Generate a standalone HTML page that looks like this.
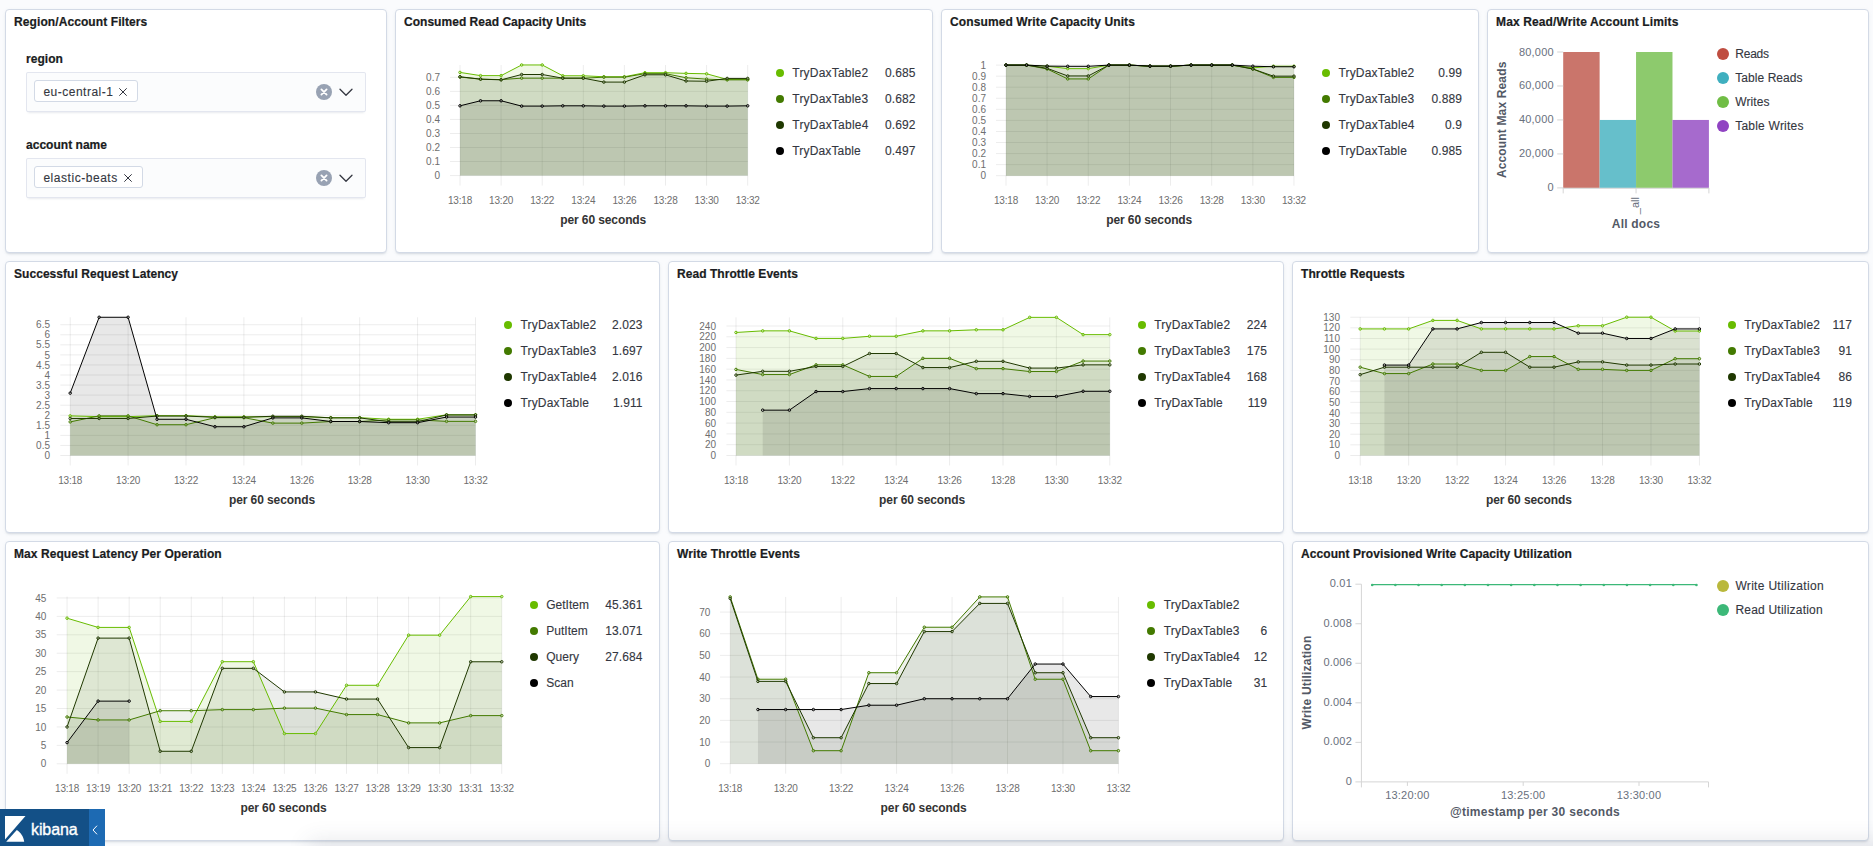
<!DOCTYPE html>
<html lang="en"><head><meta charset="utf-8"><title>[Metricbeat AWS] DynamoDB Overview - Kibana</title>
<style>
*{box-sizing:border-box}
html,body{margin:0;padding:0}
body{width:1873px;height:846px;overflow:hidden;background:#fafbfd;font-family:"Liberation Sans",sans-serif;color:#343741;position:relative}
.panel{position:absolute;background:#fff;border:1px solid #d3dae6;border-radius:4px;box-shadow:0 2px 2px -1px rgba(152,162,179,.3),0 1px 5px -2px rgba(152,162,179,.3)}
.panel h2{position:absolute;left:8px;top:5px;margin:0;font-size:12px;line-height:14px;font-weight:bold;color:#1a1c21;white-space:nowrap;-webkit-text-stroke:0.2px #1a1c21}
.cv{position:absolute;left:0;top:0;display:block;overflow:visible}
.lg{position:absolute;height:18px;font-size:12px;line-height:18px;color:#343741;white-space:nowrap;-webkit-text-stroke:0.12px #343741}
.lg i{position:absolute;left:0;top:5px;width:8px;height:8px;border-radius:50%}
.lg .ln{position:absolute;top:0}
.lg .lv{position:absolute;right:0;top:0;letter-spacing:0.1px}
.vl{position:absolute;height:18px;font-size:12px;line-height:18px;color:#343741;white-space:nowrap;-webkit-text-stroke:0.12px #343741}
.vl i{position:absolute;left:0;top:3px;width:12px;height:12px;border-radius:50%}
.vl span{position:absolute;top:0}
.ctl{position:absolute;left:20px;width:340px}
.ctl label{display:block;font-size:12px;line-height:18px;font-weight:bold;color:#1a1c21;height:22px;white-space:nowrap;-webkit-text-stroke:0.2px #1a1c21}
.combo{position:relative;height:40px;background:#fbfcfd;border-radius:2px;box-shadow:0 1px 1px -1px rgba(152,162,179,.2),0 3px 2px -2px rgba(152,162,179,.2),inset 0 0 0 1px rgba(15,39,118,.1)}
.pill{position:absolute;left:8px;top:8px;height:22px;background:#fff;border:1px solid #d3dae6;border-radius:3px;font-size:12px;line-height:23px;color:#343741;padding-left:8.4px;white-space:nowrap;-webkit-text-stroke:0.12px #343741}
.pill svg{position:absolute;right:10px;top:7px}
.clr{position:absolute;left:290px;top:12px}
.chev{position:absolute;left:313px;top:16px}
.badge{position:absolute;left:0;top:809px;width:105px;height:37px;background:#135087;color:#fff}
.badge svg{position:absolute;left:5px;top:7px}
.badge span{position:absolute;left:31px;top:10.5px;font-size:16px;line-height:20px;letter-spacing:-0.1px;color:#fff;-webkit-text-stroke:0.35px #fff}
.badge b{position:absolute;left:89px;top:0;width:16px;height:37px;background:#1d6ab3}
.badge b svg{left:3.3px;top:15.8px}
.btm{position:absolute;left:318px;right:-40px;top:850px;height:10px;box-shadow:0 0 22px 9px rgba(60,70,90,.13)}
</style></head>
<body>
<main>
<section class="panel" style="left:5px;top:9px;width:382px;height:244px"><h2 style="letter-spacing:0.093px">Region/Account Filters</h2>
<div class="ctl" style="top:40px">
<label style="letter-spacing:0.055px">region</label>
<div class="combo"><span class="pill" style="width:104px"><span style="letter-spacing:0.497px">eu-central-1</span><svg width="8" height="8" viewBox="0 0 8 8"><path d="M0.3 0.3L7.7 7.7M7.7 0.3L0.3 7.7" stroke="#343741" stroke-width="1" fill="none"/></svg></span>
<svg class="clr" width="16" height="16" viewBox="0 0 16 16"><circle cx="8" cy="8" r="8" fill="#98a2b3"/><path d="M5.4 5.4L10.6 10.6M10.6 5.4L5.4 10.6" stroke="#fff" stroke-width="1.8" stroke-linecap="round"/></svg>
<svg class="chev" width="14" height="9" viewBox="0 0 14 9"><path d="M1 1.2L7 7.2L13 1.2" stroke="#343741" stroke-width="1.3" fill="none" stroke-linejoin="round" stroke-linecap="round"/></svg>
</div></div>
<div class="ctl" style="top:126px">
<label style="letter-spacing:0.025px">account name</label>
<div class="combo"><span class="pill" style="width:108.5px"><span style="letter-spacing:0.54px">elastic-beats</span><svg width="8" height="8" viewBox="0 0 8 8"><path d="M0.3 0.3L7.7 7.7M7.7 0.3L0.3 7.7" stroke="#343741" stroke-width="1" fill="none"/></svg></span>
<svg class="clr" width="16" height="16" viewBox="0 0 16 16"><circle cx="8" cy="8" r="8" fill="#98a2b3"/><path d="M5.4 5.4L10.6 10.6M10.6 5.4L5.4 10.6" stroke="#fff" stroke-width="1.8" stroke-linecap="round"/></svg>
<svg class="chev" width="14" height="9" viewBox="0 0 14 9"><path d="M1 1.2L7 7.2L13 1.2" stroke="#343741" stroke-width="1.3" fill="none" stroke-linejoin="round" stroke-linecap="round"/></svg>
</div></div>
</section>
<section class="panel" style="left:395px;top:9px;width:538px;height:244px"><h2 style="letter-spacing:0.029px">Consumed Read Capacity Units</h2>
<svg class="cv" width="536" height="242" viewBox="396 10 536 242" font-family='"Liberation Sans", sans-serif'>
<path d="M450 175.6H747.7M450 161.56H747.7M450 147.52H747.7M450 133.48H747.7M450 119.44H747.7M450 105.4H747.7M450 91.36H747.7M450 77.32H747.7M460 64.96V185.6M501.1 64.96V185.6M542.2 64.96V185.6M583.3 64.96V185.6M624.4 64.96V185.6M665.5 64.96V185.6M706.6 64.96V185.6M747.7 64.96V185.6" stroke="rgba(0,0,0,0.075)" stroke-width="1" fill="none"/>
<path d="M460 175.6L460 72.41L480.55 75.64L501.1 75.64L521.65 64.96L542.2 64.96L562.75 75.78L583.3 75.78L603.85 76.76L624.4 76.76L644.95 72.69L665.5 72.69L686.05 73.39L706.6 73.81L727.15 79.43L747.7 79.43L747.7 175.6Z" fill="#68bc00" fill-opacity="0.1"/>
<path d="M460 175.6L460 77.04L480.55 79.15L501.1 79.57L521.65 78.16L542.2 78.16L562.75 78.16L583.3 78.16L603.85 77.18L624.4 77.18L644.95 73.67L665.5 73.67L686.05 77.74L706.6 79.15L727.15 79.85L747.7 79.85L747.7 175.6Z" fill="#55733f" fill-opacity="0.1"/>
<path d="M460 175.6L460 76.76L480.55 79.15L501.1 79.85L521.65 74.51L542.2 74.51L562.75 78.16L583.3 78.16L603.85 82.09L624.4 82.09L644.95 74.79L665.5 74.79L686.05 80.97L706.6 81.25L727.15 78.44L747.7 78.44L747.7 175.6Z" fill="#415537" fill-opacity="0.1"/>
<path d="M460 175.6L460 105.82L480.55 100.77L501.1 100.77L521.65 106.1L542.2 106.1L562.75 105.82L583.3 105.82L603.85 106.1L624.4 106.1L644.95 105.82L665.5 105.82L686.05 105.82L706.6 106.1L727.15 106.1L747.7 105.82L747.7 175.6Z" fill="#000000" fill-opacity="0.09"/>
<path d="M460 72.41L480.55 75.64L501.1 75.64L521.65 64.96L542.2 64.96L562.75 75.78L583.3 75.78L603.85 76.76L624.4 76.76L644.95 72.69L665.5 72.69L686.05 73.39L706.6 73.81L727.15 79.43L747.7 79.43" stroke="#68bc00" stroke-width="1" fill="none" stroke-linejoin="round"/>
<g fill="#fff" fill-opacity="0.35" stroke="#68bc00" stroke-width="1"><circle cx="460" cy="72.41" r="1.25"/><circle cx="480.55" cy="75.64" r="1.25"/><circle cx="501.1" cy="75.64" r="1.25"/><circle cx="521.65" cy="64.96" r="1.25"/><circle cx="542.2" cy="64.96" r="1.25"/><circle cx="562.75" cy="75.78" r="1.25"/><circle cx="583.3" cy="75.78" r="1.25"/><circle cx="603.85" cy="76.76" r="1.25"/><circle cx="624.4" cy="76.76" r="1.25"/><circle cx="644.95" cy="72.69" r="1.25"/><circle cx="665.5" cy="72.69" r="1.25"/><circle cx="686.05" cy="73.39" r="1.25"/><circle cx="706.6" cy="73.81" r="1.25"/><circle cx="727.15" cy="79.43" r="1.25"/><circle cx="747.7" cy="79.43" r="1.25"/></g>
<path d="M460 77.04L480.55 79.15L501.1 79.57L521.65 78.16L542.2 78.16L562.75 78.16L583.3 78.16L603.85 77.18L624.4 77.18L644.95 73.67L665.5 73.67L686.05 77.74L706.6 79.15L727.15 79.85L747.7 79.85" stroke="#437a00" stroke-width="1" fill="none" stroke-linejoin="round"/>
<g fill="#fff" fill-opacity="0.35" stroke="#437a00" stroke-width="1"><circle cx="460" cy="77.04" r="1.25"/><circle cx="480.55" cy="79.15" r="1.25"/><circle cx="501.1" cy="79.57" r="1.25"/><circle cx="521.65" cy="78.16" r="1.25"/><circle cx="542.2" cy="78.16" r="1.25"/><circle cx="562.75" cy="78.16" r="1.25"/><circle cx="583.3" cy="78.16" r="1.25"/><circle cx="603.85" cy="77.18" r="1.25"/><circle cx="624.4" cy="77.18" r="1.25"/><circle cx="644.95" cy="73.67" r="1.25"/><circle cx="665.5" cy="73.67" r="1.25"/><circle cx="686.05" cy="77.74" r="1.25"/><circle cx="706.6" cy="79.15" r="1.25"/><circle cx="727.15" cy="79.85" r="1.25"/><circle cx="747.7" cy="79.85" r="1.25"/></g>
<path d="M460 76.76L480.55 79.15L501.1 79.85L521.65 74.51L542.2 74.51L562.75 78.16L583.3 78.16L603.85 82.09L624.4 82.09L644.95 74.79L665.5 74.79L686.05 80.97L706.6 81.25L727.15 78.44L747.7 78.44" stroke="#1f3800" stroke-width="1" fill="none" stroke-linejoin="round"/>
<g fill="#fff" fill-opacity="0.35" stroke="#1f3800" stroke-width="1"><circle cx="460" cy="76.76" r="1.25"/><circle cx="480.55" cy="79.15" r="1.25"/><circle cx="501.1" cy="79.85" r="1.25"/><circle cx="521.65" cy="74.51" r="1.25"/><circle cx="542.2" cy="74.51" r="1.25"/><circle cx="562.75" cy="78.16" r="1.25"/><circle cx="583.3" cy="78.16" r="1.25"/><circle cx="603.85" cy="82.09" r="1.25"/><circle cx="624.4" cy="82.09" r="1.25"/><circle cx="644.95" cy="74.79" r="1.25"/><circle cx="665.5" cy="74.79" r="1.25"/><circle cx="686.05" cy="80.97" r="1.25"/><circle cx="706.6" cy="81.25" r="1.25"/><circle cx="727.15" cy="78.44" r="1.25"/><circle cx="747.7" cy="78.44" r="1.25"/></g>
<path d="M460 105.82L480.55 100.77L501.1 100.77L521.65 106.1L542.2 106.1L562.75 105.82L583.3 105.82L603.85 106.1L624.4 106.1L644.95 105.82L665.5 105.82L686.05 105.82L706.6 106.1L727.15 106.1L747.7 105.82" stroke="#000000" stroke-width="1" fill="none" stroke-linejoin="round"/>
<g fill="#fff" fill-opacity="0.35" stroke="#000000" stroke-width="1"><circle cx="460" cy="105.82" r="1.25"/><circle cx="480.55" cy="100.77" r="1.25"/><circle cx="501.1" cy="100.77" r="1.25"/><circle cx="521.65" cy="106.1" r="1.25"/><circle cx="542.2" cy="106.1" r="1.25"/><circle cx="562.75" cy="105.82" r="1.25"/><circle cx="583.3" cy="105.82" r="1.25"/><circle cx="603.85" cy="106.1" r="1.25"/><circle cx="624.4" cy="106.1" r="1.25"/><circle cx="644.95" cy="105.82" r="1.25"/><circle cx="665.5" cy="105.82" r="1.25"/><circle cx="686.05" cy="105.82" r="1.25"/><circle cx="706.6" cy="106.1" r="1.25"/><circle cx="727.15" cy="106.1" r="1.25"/><circle cx="747.7" cy="105.82" r="1.25"/></g>
<g font-size="10" fill="#6e6e6e" text-anchor="end"><text x="440" y="179.2">0</text><text x="440" y="165.16">0.1</text><text x="440" y="151.12">0.2</text><text x="440" y="137.08">0.3</text><text x="440" y="123.04">0.4</text><text x="440" y="109">0.5</text><text x="440" y="94.96">0.6</text><text x="440" y="80.92">0.7</text></g>
<g font-size="10" fill="#6e6e6e" text-anchor="middle" letter-spacing="-0.2"><text x="460" y="204.2">13:18</text><text x="501.1" y="204.2">13:20</text><text x="542.2" y="204.2">13:22</text><text x="583.3" y="204.2">13:24</text><text x="624.4" y="204.2">13:26</text><text x="665.5" y="204.2">13:28</text><text x="706.6" y="204.2">13:30</text><text x="747.7" y="204.2">13:32</text></g>
<text x="603.2" y="223.6" font-size="12" font-weight="bold" fill="#333" text-anchor="middle" letter-spacing="-0.1">per 60 seconds</text>
</svg>
<div class="lg" style="top:54px;left:380px;width:139.5px"><i style="background:#68bc00"></i><span class="ln" style="left:16.3px;letter-spacing:0.201px;">TryDaxTable2</span><span class="lv">0.685</span></div>
<div class="lg" style="top:80px;left:380px;width:139.5px"><i style="background:#437a00"></i><span class="ln" style="left:16.3px;letter-spacing:0.201px;">TryDaxTable3</span><span class="lv">0.682</span></div>
<div class="lg" style="top:106px;left:380px;width:139.5px"><i style="background:#1f3800"></i><span class="ln" style="left:16.3px;letter-spacing:0.226px;">TryDaxTable4</span><span class="lv">0.692</span></div>
<div class="lg" style="top:132px;left:380px;width:139.5px"><i style="background:#000000"></i><span class="ln" style="left:16.3px;letter-spacing:0.153px;">TryDaxTable</span><span class="lv">0.497</span></div>
</section>
<section class="panel" style="left:941px;top:9px;width:538px;height:244px"><h2 style="letter-spacing:0.11px">Consumed Write Capacity Units</h2>
<svg class="cv" width="536" height="242" viewBox="942 10 536 242" font-family='"Liberation Sans", sans-serif'>
<path d="M996 175.7H1293.98M996 164.64H1293.98M996 153.58H1293.98M996 142.52H1293.98M996 131.46H1293.98M996 120.4H1293.98M996 109.34H1293.98M996 98.28H1293.98M996 87.22H1293.98M996 76.16H1293.98M996 65.1H1293.98M1006 65.1V185.7M1047.14 65.1V185.7M1088.28 65.1V185.7M1129.42 65.1V185.7M1170.56 65.1V185.7M1211.7 65.1V185.7M1252.84 65.1V185.7M1293.98 65.1V185.7" stroke="rgba(0,0,0,0.075)" stroke-width="1" fill="none"/>
<path d="M1006 175.7L1006 65.1L1026.57 65.1L1047.14 66.21L1067.71 68.64L1088.28 68.64L1108.85 65.1L1129.42 65.1L1149.99 66.21L1170.56 66.21L1191.13 65.1L1211.7 65.1L1232.27 65.1L1252.84 67.86L1273.41 66.21L1293.98 66.21L1293.98 175.7Z" fill="#68bc00" fill-opacity="0.1"/>
<path d="M1006 175.7L1006 65.1L1026.57 65.1L1047.14 68.97L1067.71 78.92L1088.28 78.92L1108.85 65.1L1129.42 65.1L1149.99 66.21L1170.56 66.21L1191.13 65.1L1211.7 65.1L1232.27 65.1L1252.84 68.97L1273.41 77.38L1293.98 77.38L1293.98 175.7Z" fill="#55733f" fill-opacity="0.1"/>
<path d="M1006 175.7L1006 65.1L1026.57 65.1L1047.14 68.31L1067.71 75.94L1088.28 75.94L1108.85 65.1L1129.42 65.1L1149.99 66.21L1170.56 66.21L1191.13 65.1L1211.7 65.1L1232.27 65.1L1252.84 68.97L1273.41 76.16L1293.98 76.16L1293.98 175.7Z" fill="#415537" fill-opacity="0.1"/>
<path d="M1006 175.7L1006 65.1L1026.57 65.1L1047.14 66.1L1067.71 66.32L1088.28 66.32L1108.85 65.1L1129.42 65.1L1149.99 66.1L1170.56 66.1L1191.13 65.1L1211.7 65.1L1232.27 65.1L1252.84 66.21L1273.41 66.76L1293.98 66.76L1293.98 175.7Z" fill="#000000" fill-opacity="0.09"/>
<path d="M1006 65.1L1026.57 65.1L1047.14 66.21L1067.71 68.64L1088.28 68.64L1108.85 65.1L1129.42 65.1L1149.99 66.21L1170.56 66.21L1191.13 65.1L1211.7 65.1L1232.27 65.1L1252.84 67.86L1273.41 66.21L1293.98 66.21" stroke="#68bc00" stroke-width="1" fill="none" stroke-linejoin="round"/>
<g fill="#fff" fill-opacity="0.35" stroke="#68bc00" stroke-width="1"><circle cx="1006" cy="65.1" r="1.25"/><circle cx="1026.57" cy="65.1" r="1.25"/><circle cx="1047.14" cy="66.21" r="1.25"/><circle cx="1067.71" cy="68.64" r="1.25"/><circle cx="1088.28" cy="68.64" r="1.25"/><circle cx="1108.85" cy="65.1" r="1.25"/><circle cx="1129.42" cy="65.1" r="1.25"/><circle cx="1149.99" cy="66.21" r="1.25"/><circle cx="1170.56" cy="66.21" r="1.25"/><circle cx="1191.13" cy="65.1" r="1.25"/><circle cx="1211.7" cy="65.1" r="1.25"/><circle cx="1232.27" cy="65.1" r="1.25"/><circle cx="1252.84" cy="67.86" r="1.25"/><circle cx="1273.41" cy="66.21" r="1.25"/><circle cx="1293.98" cy="66.21" r="1.25"/></g>
<path d="M1006 65.1L1026.57 65.1L1047.14 68.97L1067.71 78.92L1088.28 78.92L1108.85 65.1L1129.42 65.1L1149.99 66.21L1170.56 66.21L1191.13 65.1L1211.7 65.1L1232.27 65.1L1252.84 68.97L1273.41 77.38L1293.98 77.38" stroke="#437a00" stroke-width="1" fill="none" stroke-linejoin="round"/>
<g fill="#fff" fill-opacity="0.35" stroke="#437a00" stroke-width="1"><circle cx="1006" cy="65.1" r="1.25"/><circle cx="1026.57" cy="65.1" r="1.25"/><circle cx="1047.14" cy="68.97" r="1.25"/><circle cx="1067.71" cy="78.92" r="1.25"/><circle cx="1088.28" cy="78.92" r="1.25"/><circle cx="1108.85" cy="65.1" r="1.25"/><circle cx="1129.42" cy="65.1" r="1.25"/><circle cx="1149.99" cy="66.21" r="1.25"/><circle cx="1170.56" cy="66.21" r="1.25"/><circle cx="1191.13" cy="65.1" r="1.25"/><circle cx="1211.7" cy="65.1" r="1.25"/><circle cx="1232.27" cy="65.1" r="1.25"/><circle cx="1252.84" cy="68.97" r="1.25"/><circle cx="1273.41" cy="77.38" r="1.25"/><circle cx="1293.98" cy="77.38" r="1.25"/></g>
<path d="M1006 65.1L1026.57 65.1L1047.14 68.31L1067.71 75.94L1088.28 75.94L1108.85 65.1L1129.42 65.1L1149.99 66.21L1170.56 66.21L1191.13 65.1L1211.7 65.1L1232.27 65.1L1252.84 68.97L1273.41 76.16L1293.98 76.16" stroke="#1f3800" stroke-width="1" fill="none" stroke-linejoin="round"/>
<g fill="#fff" fill-opacity="0.35" stroke="#1f3800" stroke-width="1"><circle cx="1006" cy="65.1" r="1.25"/><circle cx="1026.57" cy="65.1" r="1.25"/><circle cx="1047.14" cy="68.31" r="1.25"/><circle cx="1067.71" cy="75.94" r="1.25"/><circle cx="1088.28" cy="75.94" r="1.25"/><circle cx="1108.85" cy="65.1" r="1.25"/><circle cx="1129.42" cy="65.1" r="1.25"/><circle cx="1149.99" cy="66.21" r="1.25"/><circle cx="1170.56" cy="66.21" r="1.25"/><circle cx="1191.13" cy="65.1" r="1.25"/><circle cx="1211.7" cy="65.1" r="1.25"/><circle cx="1232.27" cy="65.1" r="1.25"/><circle cx="1252.84" cy="68.97" r="1.25"/><circle cx="1273.41" cy="76.16" r="1.25"/><circle cx="1293.98" cy="76.16" r="1.25"/></g>
<path d="M1006 65.1L1026.57 65.1L1047.14 66.1L1067.71 66.32L1088.28 66.32L1108.85 65.1L1129.42 65.1L1149.99 66.1L1170.56 66.1L1191.13 65.1L1211.7 65.1L1232.27 65.1L1252.84 66.21L1273.41 66.76L1293.98 66.76" stroke="#000000" stroke-width="1" fill="none" stroke-linejoin="round"/>
<g fill="#fff" fill-opacity="0.35" stroke="#000000" stroke-width="1"><circle cx="1006" cy="65.1" r="1.25"/><circle cx="1026.57" cy="65.1" r="1.25"/><circle cx="1047.14" cy="66.1" r="1.25"/><circle cx="1067.71" cy="66.32" r="1.25"/><circle cx="1088.28" cy="66.32" r="1.25"/><circle cx="1108.85" cy="65.1" r="1.25"/><circle cx="1129.42" cy="65.1" r="1.25"/><circle cx="1149.99" cy="66.1" r="1.25"/><circle cx="1170.56" cy="66.1" r="1.25"/><circle cx="1191.13" cy="65.1" r="1.25"/><circle cx="1211.7" cy="65.1" r="1.25"/><circle cx="1232.27" cy="65.1" r="1.25"/><circle cx="1252.84" cy="66.21" r="1.25"/><circle cx="1273.41" cy="66.76" r="1.25"/><circle cx="1293.98" cy="66.76" r="1.25"/></g>
<g font-size="10" fill="#6e6e6e" text-anchor="end"><text x="986" y="179.3">0</text><text x="986" y="168.24">0.1</text><text x="986" y="157.18">0.2</text><text x="986" y="146.12">0.3</text><text x="986" y="135.06">0.4</text><text x="986" y="124">0.5</text><text x="986" y="112.94">0.6</text><text x="986" y="101.88">0.7</text><text x="986" y="90.82">0.8</text><text x="986" y="79.76">0.9</text><text x="986" y="68.7">1</text></g>
<g font-size="10" fill="#6e6e6e" text-anchor="middle" letter-spacing="-0.2"><text x="1006" y="204.3">13:18</text><text x="1047.14" y="204.3">13:20</text><text x="1088.28" y="204.3">13:22</text><text x="1129.42" y="204.3">13:24</text><text x="1170.56" y="204.3">13:26</text><text x="1211.7" y="204.3">13:28</text><text x="1252.84" y="204.3">13:30</text><text x="1293.98" y="204.3">13:32</text></g>
<text x="1149.2" y="223.7" font-size="12" font-weight="bold" fill="#333" text-anchor="middle" letter-spacing="-0.1">per 60 seconds</text>
</svg>
<div class="lg" style="top:54px;left:379.8px;width:140.2px"><i style="background:#68bc00"></i><span class="ln" style="left:16.6px;letter-spacing:0.201px;">TryDaxTable2</span><span class="lv">0.99</span></div>
<div class="lg" style="top:80px;left:379.8px;width:140.2px"><i style="background:#437a00"></i><span class="ln" style="left:16.6px;letter-spacing:0.201px;">TryDaxTable3</span><span class="lv">0.889</span></div>
<div class="lg" style="top:106px;left:379.8px;width:140.2px"><i style="background:#1f3800"></i><span class="ln" style="left:16.6px;letter-spacing:0.226px;">TryDaxTable4</span><span class="lv">0.9</span></div>
<div class="lg" style="top:132px;left:379.8px;width:140.2px"><i style="background:#000000"></i><span class="ln" style="left:16.6px;letter-spacing:0.153px;">TryDaxTable</span><span class="lv">0.985</span></div>
</section>
<section class="panel" style="left:1487px;top:9px;width:382px;height:244px"><h2 style="letter-spacing:0.131px">Max Read/Write Account Limits</h2>
<svg class="cv" width="380" height="242" viewBox="1488 10 380 242" font-family='"Liberation Sans", sans-serif'>
<rect x="1563.2" y="52" width="36.43" height="135.9" fill="#ca756b"/>
<rect x="1599.62" y="119.95" width="36.43" height="67.95" fill="#66bfcb"/>
<rect x="1636.05" y="52" width="36.43" height="135.9" fill="#8dca6d"/>
<rect x="1672.48" y="119.95" width="36.43" height="67.95" fill="#a66acd"/>
<path d="M1563.2 188.3H1708.9M1563.2 187.9v5.5M1636.05 187.9v5.5M1708.9 187.9v5.5M1557.2 187.9h6M1557.2 153.93h6M1557.2 119.95h6M1557.2 85.98h6M1557.2 52h6" stroke="#d5d5d5" stroke-width="1" fill="none"/>
<g font-size="11" fill="#69707d" text-anchor="end" letter-spacing="0.2"><text x="1553.8" y="191.4">0</text><text x="1553.8" y="157.43">20,000</text><text x="1553.8" y="123.45">40,000</text><text x="1553.8" y="89.48">60,000</text><text x="1553.8" y="55.5">80,000</text></g>
<text transform="translate(1506.3 119.8) rotate(-90)" font-size="12" font-weight="bold" fill="#535966" text-anchor="middle" letter-spacing="0.15">Account Max Reads</text>
<text transform="translate(1639.3 197) rotate(-90)" font-size="11" fill="#69707d" text-anchor="end">_all</text>
<text x="1636" y="228.2" font-size="12" font-weight="bold" fill="#535966" text-anchor="middle" letter-spacing="0.2">All docs</text>
</svg>
<div class="vl" style="top:35px;left:229px"><i style="background:#bf4d40"></i><span style="left:18.2px;letter-spacing:-0.197px">Reads</span></div>
<div class="vl" style="top:59px;left:229px"><i style="background:#3fafbf"></i><span style="left:18.2px;letter-spacing:0.071px">Table Reads</span></div>
<div class="vl" style="top:83px;left:229px"><i style="background:#70bd45"></i><span style="left:18.2px;letter-spacing:0.12px">Writes</span></div>
<div class="vl" style="top:107px;left:229px"><i style="background:#9043c2"></i><span style="left:18.2px;letter-spacing:0.224px">Table Writes</span></div>
</section>
<section class="panel" style="left:5px;top:261px;width:655px;height:272px"><h2 style="letter-spacing:0.049px">Successful Request Latency</h2>
<svg class="cv" width="653" height="270" viewBox="6 262 653 270" font-family='"Liberation Sans", sans-serif'>
<path d="M60.3 455.5H475.5M60.3 445.44H475.5M60.3 435.38H475.5M60.3 425.32H475.5M60.3 415.26H475.5M60.3 405.2H475.5M60.3 395.14H475.5M60.3 385.08H475.5M60.3 375.02H475.5M60.3 364.96H475.5M60.3 354.9H475.5M60.3 344.84H475.5M60.3 334.78H475.5M60.3 324.72H475.5M70.2 317.28V465.5M128.1 317.28V465.5M186 317.28V465.5M243.9 317.28V465.5M301.8 317.28V465.5M359.7 317.28V465.5M417.6 317.28V465.5M475.5 317.28V465.5" stroke="rgba(0,0,0,0.075)" stroke-width="1" fill="none"/>
<path d="M70.2 455.5L70.2 415.86L99.15 416.67L128.1 416.67L157.05 415.66L186 415.66L214.95 416.87L243.9 416.87L272.85 416.67L301.8 416.67L330.75 417.67L359.7 417.67L388.65 419.28L417.6 419.28L446.55 414.8L475.5 414.8L475.5 455.5Z" fill="#68bc00" fill-opacity="0.1"/>
<path d="M70.2 455.5L70.2 421.9L99.15 415.86L128.1 415.86L157.05 424.72L186 424.72L214.95 417.67L243.9 417.67L272.85 423.11L301.8 423.11L330.75 421.5L359.7 421.5L388.65 419.89L417.6 419.89L446.55 421.36L475.5 421.36L475.5 455.5Z" fill="#55733f" fill-opacity="0.1"/>
<path d="M70.2 455.5L70.2 418.48L99.15 418.48L128.1 418.48L157.05 416.06L186 416.06L214.95 417.27L243.9 417.27L272.85 416.27L301.8 416.27L330.75 417.88L359.7 417.88L388.65 421.7L417.6 421.7L446.55 414.94L475.5 414.94L475.5 455.5Z" fill="#415537" fill-opacity="0.1"/>
<path d="M70.2 455.5L70.2 393.13L99.15 317.28L128.1 317.28L157.05 419.28L186 419.28L214.95 426.73L243.9 426.73L272.85 417.88L301.8 417.88L330.75 421.5L359.7 421.5L388.65 422.7L417.6 422.7L446.55 417.05L475.5 417.05L475.5 455.5Z" fill="#000000" fill-opacity="0.09"/>
<path d="M70.2 415.86L99.15 416.67L128.1 416.67L157.05 415.66L186 415.66L214.95 416.87L243.9 416.87L272.85 416.67L301.8 416.67L330.75 417.67L359.7 417.67L388.65 419.28L417.6 419.28L446.55 414.8L475.5 414.8" stroke="#68bc00" stroke-width="1" fill="none" stroke-linejoin="round"/>
<g fill="#fff" fill-opacity="0.35" stroke="#68bc00" stroke-width="1"><circle cx="70.2" cy="415.86" r="1.25"/><circle cx="99.15" cy="416.67" r="1.25"/><circle cx="128.1" cy="416.67" r="1.25"/><circle cx="157.05" cy="415.66" r="1.25"/><circle cx="186" cy="415.66" r="1.25"/><circle cx="214.95" cy="416.87" r="1.25"/><circle cx="243.9" cy="416.87" r="1.25"/><circle cx="272.85" cy="416.67" r="1.25"/><circle cx="301.8" cy="416.67" r="1.25"/><circle cx="330.75" cy="417.67" r="1.25"/><circle cx="359.7" cy="417.67" r="1.25"/><circle cx="388.65" cy="419.28" r="1.25"/><circle cx="417.6" cy="419.28" r="1.25"/><circle cx="446.55" cy="414.8" r="1.25"/><circle cx="475.5" cy="414.8" r="1.25"/></g>
<path d="M70.2 421.9L99.15 415.86L128.1 415.86L157.05 424.72L186 424.72L214.95 417.67L243.9 417.67L272.85 423.11L301.8 423.11L330.75 421.5L359.7 421.5L388.65 419.89L417.6 419.89L446.55 421.36L475.5 421.36" stroke="#437a00" stroke-width="1" fill="none" stroke-linejoin="round"/>
<g fill="#fff" fill-opacity="0.35" stroke="#437a00" stroke-width="1"><circle cx="70.2" cy="421.9" r="1.25"/><circle cx="99.15" cy="415.86" r="1.25"/><circle cx="128.1" cy="415.86" r="1.25"/><circle cx="157.05" cy="424.72" r="1.25"/><circle cx="186" cy="424.72" r="1.25"/><circle cx="214.95" cy="417.67" r="1.25"/><circle cx="243.9" cy="417.67" r="1.25"/><circle cx="272.85" cy="423.11" r="1.25"/><circle cx="301.8" cy="423.11" r="1.25"/><circle cx="330.75" cy="421.5" r="1.25"/><circle cx="359.7" cy="421.5" r="1.25"/><circle cx="388.65" cy="419.89" r="1.25"/><circle cx="417.6" cy="419.89" r="1.25"/><circle cx="446.55" cy="421.36" r="1.25"/><circle cx="475.5" cy="421.36" r="1.25"/></g>
<path d="M70.2 418.48L99.15 418.48L128.1 418.48L157.05 416.06L186 416.06L214.95 417.27L243.9 417.27L272.85 416.27L301.8 416.27L330.75 417.88L359.7 417.88L388.65 421.7L417.6 421.7L446.55 414.94L475.5 414.94" stroke="#1f3800" stroke-width="1" fill="none" stroke-linejoin="round"/>
<g fill="#fff" fill-opacity="0.35" stroke="#1f3800" stroke-width="1"><circle cx="70.2" cy="418.48" r="1.25"/><circle cx="99.15" cy="418.48" r="1.25"/><circle cx="128.1" cy="418.48" r="1.25"/><circle cx="157.05" cy="416.06" r="1.25"/><circle cx="186" cy="416.06" r="1.25"/><circle cx="214.95" cy="417.27" r="1.25"/><circle cx="243.9" cy="417.27" r="1.25"/><circle cx="272.85" cy="416.27" r="1.25"/><circle cx="301.8" cy="416.27" r="1.25"/><circle cx="330.75" cy="417.88" r="1.25"/><circle cx="359.7" cy="417.88" r="1.25"/><circle cx="388.65" cy="421.7" r="1.25"/><circle cx="417.6" cy="421.7" r="1.25"/><circle cx="446.55" cy="414.94" r="1.25"/><circle cx="475.5" cy="414.94" r="1.25"/></g>
<path d="M70.2 393.13L99.15 317.28L128.1 317.28L157.05 419.28L186 419.28L214.95 426.73L243.9 426.73L272.85 417.88L301.8 417.88L330.75 421.5L359.7 421.5L388.65 422.7L417.6 422.7L446.55 417.05L475.5 417.05" stroke="#000000" stroke-width="1" fill="none" stroke-linejoin="round"/>
<g fill="#fff" fill-opacity="0.35" stroke="#000000" stroke-width="1"><circle cx="70.2" cy="393.13" r="1.25"/><circle cx="99.15" cy="317.28" r="1.25"/><circle cx="128.1" cy="317.28" r="1.25"/><circle cx="157.05" cy="419.28" r="1.25"/><circle cx="186" cy="419.28" r="1.25"/><circle cx="214.95" cy="426.73" r="1.25"/><circle cx="243.9" cy="426.73" r="1.25"/><circle cx="272.85" cy="417.88" r="1.25"/><circle cx="301.8" cy="417.88" r="1.25"/><circle cx="330.75" cy="421.5" r="1.25"/><circle cx="359.7" cy="421.5" r="1.25"/><circle cx="388.65" cy="422.7" r="1.25"/><circle cx="417.6" cy="422.7" r="1.25"/><circle cx="446.55" cy="417.05" r="1.25"/><circle cx="475.5" cy="417.05" r="1.25"/></g>
<g font-size="10" fill="#6e6e6e" text-anchor="end"><text x="50" y="459.1">0</text><text x="50" y="449.04">0.5</text><text x="50" y="438.98">1</text><text x="50" y="428.92">1.5</text><text x="50" y="418.86">2</text><text x="50" y="408.8">2.5</text><text x="50" y="398.74">3</text><text x="50" y="388.68">3.5</text><text x="50" y="378.62">4</text><text x="50" y="368.56">4.5</text><text x="50" y="358.5">5</text><text x="50" y="348.44">5.5</text><text x="50" y="338.38">6</text><text x="50" y="328.32">6.5</text></g>
<g font-size="10" fill="#6e6e6e" text-anchor="middle" letter-spacing="-0.2"><text x="70.2" y="484.1">13:18</text><text x="128.1" y="484.1">13:20</text><text x="186" y="484.1">13:22</text><text x="243.9" y="484.1">13:24</text><text x="301.8" y="484.1">13:26</text><text x="359.7" y="484.1">13:28</text><text x="417.6" y="484.1">13:30</text><text x="475.5" y="484.1">13:32</text></g>
<text x="272" y="503.5" font-size="12" font-weight="bold" fill="#333" text-anchor="middle" letter-spacing="-0.1">per 60 seconds</text>
</svg>
<div class="lg" style="top:54px;left:498px;width:138.6px"><i style="background:#68bc00"></i><span class="ln" style="left:16.5px;letter-spacing:0.201px;">TryDaxTable2</span><span class="lv">2.023</span></div>
<div class="lg" style="top:80px;left:498px;width:138.6px"><i style="background:#437a00"></i><span class="ln" style="left:16.5px;letter-spacing:0.201px;">TryDaxTable3</span><span class="lv">1.697</span></div>
<div class="lg" style="top:106px;left:498px;width:138.6px"><i style="background:#1f3800"></i><span class="ln" style="left:16.5px;letter-spacing:0.226px;">TryDaxTable4</span><span class="lv">2.016</span></div>
<div class="lg" style="top:132px;left:498px;width:138.6px"><i style="background:#000000"></i><span class="ln" style="left:16.5px;letter-spacing:0.153px;">TryDaxTable</span><span class="lv">1.911</span></div>
</section>
<section class="panel" style="left:668px;top:261px;width:616px;height:272px"><h2 style="letter-spacing:0.048px">Read Throttle Events</h2>
<svg class="cv" width="614" height="270" viewBox="669 262 614 270" font-family='"Liberation Sans", sans-serif'>
<path d="M726.4 455.5H1109.8M726.4 444.71H1109.8M726.4 433.92H1109.8M726.4 423.12H1109.8M726.4 412.33H1109.8M726.4 401.54H1109.8M726.4 390.75H1109.8M726.4 379.96H1109.8M726.4 369.16H1109.8M726.4 358.37H1109.8M726.4 347.58H1109.8M726.4 336.79H1109.8M726.4 326H1109.8M736 317.36V465.5M789.4 317.36V465.5M842.8 317.36V465.5M896.2 317.36V465.5M949.6 317.36V465.5M1003 317.36V465.5M1056.4 317.36V465.5M1109.8 317.36V465.5" stroke="rgba(0,0,0,0.075)" stroke-width="1" fill="none"/>
<path d="M736 455.5L736 332.47L762.7 330.85L789.4 330.85L816.1 338.41L842.8 338.41L869.5 336.25L896.2 336.25L922.9 330.85L949.6 330.85L976.3 329.77L1003 329.77L1029.7 317.36L1056.4 317.36L1083.1 334.63L1109.8 334.63L1109.8 455.5Z" fill="#68bc00" fill-opacity="0.1"/>
<path d="M736 455.5L736 369.43L762.7 374.56L789.4 374.56L816.1 364.85L842.8 364.85L869.5 376.45L896.2 376.45L922.9 358.37L949.6 358.37L976.3 368.62L1003 368.62L1029.7 371.54L1056.4 371.54L1083.1 361.07L1109.8 361.07L1109.8 455.5Z" fill="#55733f" fill-opacity="0.1"/>
<path d="M736 455.5L736 375.1L762.7 371.32L789.4 371.32L816.1 366.47L842.8 366.47L869.5 353.52L896.2 353.52L922.9 367.55L949.6 367.55L976.3 361.34L1003 361.34L1029.7 368.08L1056.4 368.08L1083.1 364.85L1109.8 364.85L1109.8 455.5Z" fill="#415537" fill-opacity="0.1"/>
<path d="M762.7 455.5L762.7 410.17L789.4 410.17L816.1 391.56L842.8 391.56L869.5 388.59L896.2 388.59L922.9 388.59L949.6 388.59L976.3 393.61L1003 393.61L1029.7 396.47L1056.4 396.47L1083.1 391.29L1109.8 391.29L1109.8 455.5Z" fill="#000000" fill-opacity="0.09"/>
<path d="M736 332.47L762.7 330.85L789.4 330.85L816.1 338.41L842.8 338.41L869.5 336.25L896.2 336.25L922.9 330.85L949.6 330.85L976.3 329.77L1003 329.77L1029.7 317.36L1056.4 317.36L1083.1 334.63L1109.8 334.63" stroke="#68bc00" stroke-width="1" fill="none" stroke-linejoin="round"/>
<g fill="#fff" fill-opacity="0.35" stroke="#68bc00" stroke-width="1"><circle cx="736" cy="332.47" r="1.25"/><circle cx="762.7" cy="330.85" r="1.25"/><circle cx="789.4" cy="330.85" r="1.25"/><circle cx="816.1" cy="338.41" r="1.25"/><circle cx="842.8" cy="338.41" r="1.25"/><circle cx="869.5" cy="336.25" r="1.25"/><circle cx="896.2" cy="336.25" r="1.25"/><circle cx="922.9" cy="330.85" r="1.25"/><circle cx="949.6" cy="330.85" r="1.25"/><circle cx="976.3" cy="329.77" r="1.25"/><circle cx="1003" cy="329.77" r="1.25"/><circle cx="1029.7" cy="317.36" r="1.25"/><circle cx="1056.4" cy="317.36" r="1.25"/><circle cx="1083.1" cy="334.63" r="1.25"/><circle cx="1109.8" cy="334.63" r="1.25"/></g>
<path d="M736 369.43L762.7 374.56L789.4 374.56L816.1 364.85L842.8 364.85L869.5 376.45L896.2 376.45L922.9 358.37L949.6 358.37L976.3 368.62L1003 368.62L1029.7 371.54L1056.4 371.54L1083.1 361.07L1109.8 361.07" stroke="#437a00" stroke-width="1" fill="none" stroke-linejoin="round"/>
<g fill="#fff" fill-opacity="0.35" stroke="#437a00" stroke-width="1"><circle cx="736" cy="369.43" r="1.25"/><circle cx="762.7" cy="374.56" r="1.25"/><circle cx="789.4" cy="374.56" r="1.25"/><circle cx="816.1" cy="364.85" r="1.25"/><circle cx="842.8" cy="364.85" r="1.25"/><circle cx="869.5" cy="376.45" r="1.25"/><circle cx="896.2" cy="376.45" r="1.25"/><circle cx="922.9" cy="358.37" r="1.25"/><circle cx="949.6" cy="358.37" r="1.25"/><circle cx="976.3" cy="368.62" r="1.25"/><circle cx="1003" cy="368.62" r="1.25"/><circle cx="1029.7" cy="371.54" r="1.25"/><circle cx="1056.4" cy="371.54" r="1.25"/><circle cx="1083.1" cy="361.07" r="1.25"/><circle cx="1109.8" cy="361.07" r="1.25"/></g>
<path d="M736 375.1L762.7 371.32L789.4 371.32L816.1 366.47L842.8 366.47L869.5 353.52L896.2 353.52L922.9 367.55L949.6 367.55L976.3 361.34L1003 361.34L1029.7 368.08L1056.4 368.08L1083.1 364.85L1109.8 364.85" stroke="#1f3800" stroke-width="1" fill="none" stroke-linejoin="round"/>
<g fill="#fff" fill-opacity="0.35" stroke="#1f3800" stroke-width="1"><circle cx="736" cy="375.1" r="1.25"/><circle cx="762.7" cy="371.32" r="1.25"/><circle cx="789.4" cy="371.32" r="1.25"/><circle cx="816.1" cy="366.47" r="1.25"/><circle cx="842.8" cy="366.47" r="1.25"/><circle cx="869.5" cy="353.52" r="1.25"/><circle cx="896.2" cy="353.52" r="1.25"/><circle cx="922.9" cy="367.55" r="1.25"/><circle cx="949.6" cy="367.55" r="1.25"/><circle cx="976.3" cy="361.34" r="1.25"/><circle cx="1003" cy="361.34" r="1.25"/><circle cx="1029.7" cy="368.08" r="1.25"/><circle cx="1056.4" cy="368.08" r="1.25"/><circle cx="1083.1" cy="364.85" r="1.25"/><circle cx="1109.8" cy="364.85" r="1.25"/></g>
<path d="M762.7 410.17L789.4 410.17L816.1 391.56L842.8 391.56L869.5 388.59L896.2 388.59L922.9 388.59L949.6 388.59L976.3 393.61L1003 393.61L1029.7 396.47L1056.4 396.47L1083.1 391.29L1109.8 391.29" stroke="#000000" stroke-width="1" fill="none" stroke-linejoin="round"/>
<g fill="#fff" fill-opacity="0.35" stroke="#000000" stroke-width="1"><circle cx="762.7" cy="410.17" r="1.25"/><circle cx="789.4" cy="410.17" r="1.25"/><circle cx="816.1" cy="391.56" r="1.25"/><circle cx="842.8" cy="391.56" r="1.25"/><circle cx="869.5" cy="388.59" r="1.25"/><circle cx="896.2" cy="388.59" r="1.25"/><circle cx="922.9" cy="388.59" r="1.25"/><circle cx="949.6" cy="388.59" r="1.25"/><circle cx="976.3" cy="393.61" r="1.25"/><circle cx="1003" cy="393.61" r="1.25"/><circle cx="1029.7" cy="396.47" r="1.25"/><circle cx="1056.4" cy="396.47" r="1.25"/><circle cx="1083.1" cy="391.29" r="1.25"/><circle cx="1109.8" cy="391.29" r="1.25"/></g>
<g font-size="10" fill="#6e6e6e" text-anchor="end"><text x="716" y="459.1">0</text><text x="716" y="448.31">20</text><text x="716" y="437.52">40</text><text x="716" y="426.72">60</text><text x="716" y="415.93">80</text><text x="716" y="405.14">100</text><text x="716" y="394.35">120</text><text x="716" y="383.56">140</text><text x="716" y="372.76">160</text><text x="716" y="361.97">180</text><text x="716" y="351.18">200</text><text x="716" y="340.39">220</text><text x="716" y="329.6">240</text></g>
<g font-size="10" fill="#6e6e6e" text-anchor="middle" letter-spacing="-0.2"><text x="736" y="484.1">13:18</text><text x="789.4" y="484.1">13:20</text><text x="842.8" y="484.1">13:22</text><text x="896.2" y="484.1">13:24</text><text x="949.6" y="484.1">13:26</text><text x="1003" y="484.1">13:28</text><text x="1056.4" y="484.1">13:30</text><text x="1109.8" y="484.1">13:32</text></g>
<text x="922.1" y="503.5" font-size="12" font-weight="bold" fill="#333" text-anchor="middle" letter-spacing="-0.1">per 60 seconds</text>
</svg>
<div class="lg" style="top:54px;left:469.1px;width:129px"><i style="background:#68bc00"></i><span class="ln" style="left:16.2px;letter-spacing:0.201px;">TryDaxTable2</span><span class="lv">224</span></div>
<div class="lg" style="top:80px;left:469.1px;width:129px"><i style="background:#437a00"></i><span class="ln" style="left:16.2px;letter-spacing:0.201px;">TryDaxTable3</span><span class="lv">175</span></div>
<div class="lg" style="top:106px;left:469.1px;width:129px"><i style="background:#1f3800"></i><span class="ln" style="left:16.2px;letter-spacing:0.226px;">TryDaxTable4</span><span class="lv">168</span></div>
<div class="lg" style="top:132px;left:469.1px;width:129px"><i style="background:#000000"></i><span class="ln" style="left:16.2px;letter-spacing:0.153px;">TryDaxTable</span><span class="lv">119</span></div>
</section>
<section class="panel" style="left:1292px;top:261px;width:577px;height:272px"><h2 style="letter-spacing:0.105px">Throttle Requests</h2>
<svg class="cv" width="575" height="270" viewBox="1293 262 575 270" font-family='"Liberation Sans", sans-serif'>
<path d="M1350.3 455.5H1699.42M1350.3 444.86H1699.42M1350.3 434.22H1699.42M1350.3 423.59H1699.42M1350.3 412.95H1699.42M1350.3 402.31H1699.42M1350.3 391.67H1699.42M1350.3 381.03H1699.42M1350.3 370.4H1699.42M1350.3 359.76H1699.42M1350.3 349.12H1699.42M1350.3 338.48H1699.42M1350.3 327.84H1699.42M1350.3 317.21H1699.42M1360.2 317.21V465.5M1408.66 317.21V465.5M1457.12 317.21V465.5M1505.58 317.21V465.5M1554.04 317.21V465.5M1602.5 317.21V465.5M1650.96 317.21V465.5M1699.42 317.21V465.5" stroke="rgba(0,0,0,0.075)" stroke-width="1" fill="none"/>
<path d="M1360.2 455.5L1360.2 328.91L1384.43 328.91L1408.66 328.91L1432.89 320.4L1457.12 320.4L1481.35 328.91L1505.58 328.91L1529.81 328.91L1554.04 328.91L1578.27 325.72L1602.5 325.72L1626.73 317.21L1650.96 317.21L1675.19 331.04L1699.42 331.04L1699.42 455.5Z" fill="#68bc00" fill-opacity="0.1"/>
<path d="M1360.2 455.5L1360.2 367.2L1384.43 373.59L1408.66 373.59L1432.89 364.01L1457.12 364.01L1481.35 370.4L1505.58 370.4L1529.81 356.57L1554.04 356.57L1578.27 369.33L1602.5 369.33L1626.73 370.4L1650.96 370.4L1675.19 358.69L1699.42 358.69L1699.42 455.5Z" fill="#55733f" fill-opacity="0.1"/>
<path d="M1360.2 455.5L1360.2 374.65L1384.43 367.2L1408.66 367.2L1432.89 367.2L1457.12 367.2L1481.35 352.31L1505.58 352.31L1529.81 367.2L1554.04 367.2L1578.27 361.89L1602.5 361.89L1626.73 365.08L1650.96 365.08L1675.19 364.01L1699.42 364.01L1699.42 455.5Z" fill="#415537" fill-opacity="0.1"/>
<path d="M1384.43 455.5L1384.43 365.08L1408.66 365.08L1432.89 328.91L1457.12 328.91L1481.35 322.52L1505.58 322.52L1529.81 322.52L1554.04 322.52L1578.27 333.16L1602.5 333.16L1626.73 338.48L1650.96 338.48L1675.19 328.91L1699.42 328.91L1699.42 455.5Z" fill="#000000" fill-opacity="0.09"/>
<path d="M1360.2 328.91L1384.43 328.91L1408.66 328.91L1432.89 320.4L1457.12 320.4L1481.35 328.91L1505.58 328.91L1529.81 328.91L1554.04 328.91L1578.27 325.72L1602.5 325.72L1626.73 317.21L1650.96 317.21L1675.19 331.04L1699.42 331.04" stroke="#68bc00" stroke-width="1" fill="none" stroke-linejoin="round"/>
<g fill="#fff" fill-opacity="0.35" stroke="#68bc00" stroke-width="1"><circle cx="1360.2" cy="328.91" r="1.25"/><circle cx="1384.43" cy="328.91" r="1.25"/><circle cx="1408.66" cy="328.91" r="1.25"/><circle cx="1432.89" cy="320.4" r="1.25"/><circle cx="1457.12" cy="320.4" r="1.25"/><circle cx="1481.35" cy="328.91" r="1.25"/><circle cx="1505.58" cy="328.91" r="1.25"/><circle cx="1529.81" cy="328.91" r="1.25"/><circle cx="1554.04" cy="328.91" r="1.25"/><circle cx="1578.27" cy="325.72" r="1.25"/><circle cx="1602.5" cy="325.72" r="1.25"/><circle cx="1626.73" cy="317.21" r="1.25"/><circle cx="1650.96" cy="317.21" r="1.25"/><circle cx="1675.19" cy="331.04" r="1.25"/><circle cx="1699.42" cy="331.04" r="1.25"/></g>
<path d="M1360.2 367.2L1384.43 373.59L1408.66 373.59L1432.89 364.01L1457.12 364.01L1481.35 370.4L1505.58 370.4L1529.81 356.57L1554.04 356.57L1578.27 369.33L1602.5 369.33L1626.73 370.4L1650.96 370.4L1675.19 358.69L1699.42 358.69" stroke="#437a00" stroke-width="1" fill="none" stroke-linejoin="round"/>
<g fill="#fff" fill-opacity="0.35" stroke="#437a00" stroke-width="1"><circle cx="1360.2" cy="367.2" r="1.25"/><circle cx="1384.43" cy="373.59" r="1.25"/><circle cx="1408.66" cy="373.59" r="1.25"/><circle cx="1432.89" cy="364.01" r="1.25"/><circle cx="1457.12" cy="364.01" r="1.25"/><circle cx="1481.35" cy="370.4" r="1.25"/><circle cx="1505.58" cy="370.4" r="1.25"/><circle cx="1529.81" cy="356.57" r="1.25"/><circle cx="1554.04" cy="356.57" r="1.25"/><circle cx="1578.27" cy="369.33" r="1.25"/><circle cx="1602.5" cy="369.33" r="1.25"/><circle cx="1626.73" cy="370.4" r="1.25"/><circle cx="1650.96" cy="370.4" r="1.25"/><circle cx="1675.19" cy="358.69" r="1.25"/><circle cx="1699.42" cy="358.69" r="1.25"/></g>
<path d="M1360.2 374.65L1384.43 367.2L1408.66 367.2L1432.89 367.2L1457.12 367.2L1481.35 352.31L1505.58 352.31L1529.81 367.2L1554.04 367.2L1578.27 361.89L1602.5 361.89L1626.73 365.08L1650.96 365.08L1675.19 364.01L1699.42 364.01" stroke="#1f3800" stroke-width="1" fill="none" stroke-linejoin="round"/>
<g fill="#fff" fill-opacity="0.35" stroke="#1f3800" stroke-width="1"><circle cx="1360.2" cy="374.65" r="1.25"/><circle cx="1384.43" cy="367.2" r="1.25"/><circle cx="1408.66" cy="367.2" r="1.25"/><circle cx="1432.89" cy="367.2" r="1.25"/><circle cx="1457.12" cy="367.2" r="1.25"/><circle cx="1481.35" cy="352.31" r="1.25"/><circle cx="1505.58" cy="352.31" r="1.25"/><circle cx="1529.81" cy="367.2" r="1.25"/><circle cx="1554.04" cy="367.2" r="1.25"/><circle cx="1578.27" cy="361.89" r="1.25"/><circle cx="1602.5" cy="361.89" r="1.25"/><circle cx="1626.73" cy="365.08" r="1.25"/><circle cx="1650.96" cy="365.08" r="1.25"/><circle cx="1675.19" cy="364.01" r="1.25"/><circle cx="1699.42" cy="364.01" r="1.25"/></g>
<path d="M1384.43 365.08L1408.66 365.08L1432.89 328.91L1457.12 328.91L1481.35 322.52L1505.58 322.52L1529.81 322.52L1554.04 322.52L1578.27 333.16L1602.5 333.16L1626.73 338.48L1650.96 338.48L1675.19 328.91L1699.42 328.91" stroke="#000000" stroke-width="1" fill="none" stroke-linejoin="round"/>
<g fill="#fff" fill-opacity="0.35" stroke="#000000" stroke-width="1"><circle cx="1384.43" cy="365.08" r="1.25"/><circle cx="1408.66" cy="365.08" r="1.25"/><circle cx="1432.89" cy="328.91" r="1.25"/><circle cx="1457.12" cy="328.91" r="1.25"/><circle cx="1481.35" cy="322.52" r="1.25"/><circle cx="1505.58" cy="322.52" r="1.25"/><circle cx="1529.81" cy="322.52" r="1.25"/><circle cx="1554.04" cy="322.52" r="1.25"/><circle cx="1578.27" cy="333.16" r="1.25"/><circle cx="1602.5" cy="333.16" r="1.25"/><circle cx="1626.73" cy="338.48" r="1.25"/><circle cx="1650.96" cy="338.48" r="1.25"/><circle cx="1675.19" cy="328.91" r="1.25"/><circle cx="1699.42" cy="328.91" r="1.25"/></g>
<g font-size="10" fill="#6e6e6e" text-anchor="end"><text x="1340" y="459.1">0</text><text x="1340" y="448.46">10</text><text x="1340" y="437.82">20</text><text x="1340" y="427.19">30</text><text x="1340" y="416.55">40</text><text x="1340" y="405.91">50</text><text x="1340" y="395.27">60</text><text x="1340" y="384.63">70</text><text x="1340" y="374">80</text><text x="1340" y="363.36">90</text><text x="1340" y="352.72">100</text><text x="1340" y="342.08">110</text><text x="1340" y="331.44">120</text><text x="1340" y="320.81">130</text></g>
<g font-size="10" fill="#6e6e6e" text-anchor="middle" letter-spacing="-0.2"><text x="1360.2" y="484.1">13:18</text><text x="1408.66" y="484.1">13:20</text><text x="1457.12" y="484.1">13:22</text><text x="1505.58" y="484.1">13:24</text><text x="1554.04" y="484.1">13:26</text><text x="1602.5" y="484.1">13:28</text><text x="1650.96" y="484.1">13:30</text><text x="1699.42" y="484.1">13:32</text></g>
<text x="1528.9" y="503.5" font-size="12" font-weight="bold" fill="#333" text-anchor="middle" letter-spacing="-0.1">per 60 seconds</text>
</svg>
<div class="lg" style="top:54px;left:435.1px;width:123.9px"><i style="background:#68bc00"></i><span class="ln" style="left:16.1px;letter-spacing:0.201px;">TryDaxTable2</span><span class="lv">117</span></div>
<div class="lg" style="top:80px;left:435.1px;width:123.9px"><i style="background:#437a00"></i><span class="ln" style="left:16.1px;letter-spacing:0.201px;">TryDaxTable3</span><span class="lv">91</span></div>
<div class="lg" style="top:106px;left:435.1px;width:123.9px"><i style="background:#1f3800"></i><span class="ln" style="left:16.1px;letter-spacing:0.226px;">TryDaxTable4</span><span class="lv">86</span></div>
<div class="lg" style="top:132px;left:435.1px;width:123.9px"><i style="background:#000000"></i><span class="ln" style="left:16.1px;letter-spacing:0.153px;">TryDaxTable</span><span class="lv">119</span></div>
</section>
<section class="panel" style="left:5px;top:541px;width:655px;height:300px"><h2 style="letter-spacing:0.07px">Max Request Latency Per Operation</h2>
<svg class="cv" width="653" height="298" viewBox="6 542 653 298" font-family='"Liberation Sans", sans-serif'>
<path d="M56.7 763.8H501.75M56.7 745.37H501.75M56.7 726.94H501.75M56.7 708.51H501.75M56.7 690.08H501.75M56.7 671.65H501.75M56.7 653.22H501.75M56.7 634.79H501.75M56.7 616.36H501.75M56.7 597.93H501.75M67.05 596.6V773.8M98.1 596.6V773.8M129.15 596.6V773.8M160.2 596.6V773.8M191.25 596.6V773.8M222.3 596.6V773.8M253.35 596.6V773.8M284.4 596.6V773.8M315.45 596.6V773.8M346.5 596.6V773.8M377.55 596.6V773.8M408.6 596.6V773.8M439.65 596.6V773.8M470.7 596.6V773.8M501.75 596.6V773.8" stroke="rgba(0,0,0,0.075)" stroke-width="1" fill="none"/>
<path d="M67.05 763.8L67.05 618.2L98.1 627.42L129.15 627.42L160.2 721.41L191.25 721.41L222.3 661.7L253.35 661.7L284.4 733.57L315.45 733.57L346.5 685.29L377.55 685.29L408.6 635.16L439.65 635.16L470.7 596.6L501.75 596.6L501.75 763.8Z" fill="#68bc00" fill-opacity="0.1"/>
<path d="M67.05 763.8L67.05 716.99L98.1 719.94L129.15 719.94L160.2 710.72L191.25 710.72L222.3 709.62L253.35 709.62L284.4 708.14L315.45 708.14L346.5 714.59L377.55 714.59L408.6 722.89L439.65 722.89L470.7 715.62L501.75 715.62L501.75 763.8Z" fill="#55733f" fill-opacity="0.1"/>
<path d="M67.05 763.8L67.05 726.94L98.1 638.11L129.15 638.11L160.2 751.27L191.25 751.27L222.3 668.33L253.35 668.33L284.4 691.92L315.45 691.92L346.5 699.07L377.55 699.07L408.6 747.58L439.65 747.58L470.7 661.77L501.75 661.77L501.75 763.8Z" fill="#415537" fill-opacity="0.1"/>
<path d="M67.05 763.8L67.05 742.61L98.1 701.14L129.15 701.14L129.15 763.8Z" fill="#000000" fill-opacity="0.09"/>
<path d="M67.05 618.2L98.1 627.42L129.15 627.42L160.2 721.41L191.25 721.41L222.3 661.7L253.35 661.7L284.4 733.57L315.45 733.57L346.5 685.29L377.55 685.29L408.6 635.16L439.65 635.16L470.7 596.6L501.75 596.6" stroke="#68bc00" stroke-width="1" fill="none" stroke-linejoin="round"/>
<g fill="#fff" fill-opacity="0.35" stroke="#68bc00" stroke-width="1"><circle cx="67.05" cy="618.2" r="1.25"/><circle cx="98.1" cy="627.42" r="1.25"/><circle cx="129.15" cy="627.42" r="1.25"/><circle cx="160.2" cy="721.41" r="1.25"/><circle cx="191.25" cy="721.41" r="1.25"/><circle cx="222.3" cy="661.7" r="1.25"/><circle cx="253.35" cy="661.7" r="1.25"/><circle cx="284.4" cy="733.57" r="1.25"/><circle cx="315.45" cy="733.57" r="1.25"/><circle cx="346.5" cy="685.29" r="1.25"/><circle cx="377.55" cy="685.29" r="1.25"/><circle cx="408.6" cy="635.16" r="1.25"/><circle cx="439.65" cy="635.16" r="1.25"/><circle cx="470.7" cy="596.6" r="1.25"/><circle cx="501.75" cy="596.6" r="1.25"/></g>
<path d="M67.05 716.99L98.1 719.94L129.15 719.94L160.2 710.72L191.25 710.72L222.3 709.62L253.35 709.62L284.4 708.14L315.45 708.14L346.5 714.59L377.55 714.59L408.6 722.89L439.65 722.89L470.7 715.62L501.75 715.62" stroke="#437a00" stroke-width="1" fill="none" stroke-linejoin="round"/>
<g fill="#fff" fill-opacity="0.35" stroke="#437a00" stroke-width="1"><circle cx="67.05" cy="716.99" r="1.25"/><circle cx="98.1" cy="719.94" r="1.25"/><circle cx="129.15" cy="719.94" r="1.25"/><circle cx="160.2" cy="710.72" r="1.25"/><circle cx="191.25" cy="710.72" r="1.25"/><circle cx="222.3" cy="709.62" r="1.25"/><circle cx="253.35" cy="709.62" r="1.25"/><circle cx="284.4" cy="708.14" r="1.25"/><circle cx="315.45" cy="708.14" r="1.25"/><circle cx="346.5" cy="714.59" r="1.25"/><circle cx="377.55" cy="714.59" r="1.25"/><circle cx="408.6" cy="722.89" r="1.25"/><circle cx="439.65" cy="722.89" r="1.25"/><circle cx="470.7" cy="715.62" r="1.25"/><circle cx="501.75" cy="715.62" r="1.25"/></g>
<path d="M67.05 726.94L98.1 638.11L129.15 638.11L160.2 751.27L191.25 751.27L222.3 668.33L253.35 668.33L284.4 691.92L315.45 691.92L346.5 699.07L377.55 699.07L408.6 747.58L439.65 747.58L470.7 661.77L501.75 661.77" stroke="#1f3800" stroke-width="1" fill="none" stroke-linejoin="round"/>
<g fill="#fff" fill-opacity="0.35" stroke="#1f3800" stroke-width="1"><circle cx="67.05" cy="726.94" r="1.25"/><circle cx="98.1" cy="638.11" r="1.25"/><circle cx="129.15" cy="638.11" r="1.25"/><circle cx="160.2" cy="751.27" r="1.25"/><circle cx="191.25" cy="751.27" r="1.25"/><circle cx="222.3" cy="668.33" r="1.25"/><circle cx="253.35" cy="668.33" r="1.25"/><circle cx="284.4" cy="691.92" r="1.25"/><circle cx="315.45" cy="691.92" r="1.25"/><circle cx="346.5" cy="699.07" r="1.25"/><circle cx="377.55" cy="699.07" r="1.25"/><circle cx="408.6" cy="747.58" r="1.25"/><circle cx="439.65" cy="747.58" r="1.25"/><circle cx="470.7" cy="661.77" r="1.25"/><circle cx="501.75" cy="661.77" r="1.25"/></g>
<path d="M67.05 742.61L98.1 701.14L129.15 701.14" stroke="#000000" stroke-width="1" fill="none" stroke-linejoin="round"/>
<g fill="#fff" fill-opacity="0.35" stroke="#000000" stroke-width="1"><circle cx="67.05" cy="742.61" r="1.25"/><circle cx="98.1" cy="701.14" r="1.25"/><circle cx="129.15" cy="701.14" r="1.25"/></g>
<g font-size="10" fill="#6e6e6e" text-anchor="end"><text x="46.4" y="767.4">0</text><text x="46.4" y="748.97">5</text><text x="46.4" y="730.54">10</text><text x="46.4" y="712.11">15</text><text x="46.4" y="693.68">20</text><text x="46.4" y="675.25">25</text><text x="46.4" y="656.82">30</text><text x="46.4" y="638.39">35</text><text x="46.4" y="619.96">40</text><text x="46.4" y="601.53">45</text></g>
<g font-size="10" fill="#6e6e6e" text-anchor="middle" letter-spacing="-0.2"><text x="67.05" y="792.4">13:18</text><text x="98.1" y="792.4">13:19</text><text x="129.15" y="792.4">13:20</text><text x="160.2" y="792.4">13:21</text><text x="191.25" y="792.4">13:22</text><text x="222.3" y="792.4">13:23</text><text x="253.35" y="792.4">13:24</text><text x="284.4" y="792.4">13:25</text><text x="315.45" y="792.4">13:26</text><text x="346.5" y="792.4">13:27</text><text x="377.55" y="792.4">13:28</text><text x="408.6" y="792.4">13:29</text><text x="439.65" y="792.4">13:30</text><text x="470.7" y="792.4">13:31</text><text x="501.75" y="792.4">13:32</text></g>
<text x="283.5" y="811.8" font-size="12" font-weight="bold" fill="#333" text-anchor="middle" letter-spacing="-0.1">per 60 seconds</text>
</svg>
<div class="lg" style="top:54px;left:524.2px;width:112.4px"><i style="background:#68bc00"></i><span class="ln" style="left:16.1px;">GetItem</span><span class="lv">45.361</span></div>
<div class="lg" style="top:80px;left:524.2px;width:112.4px"><i style="background:#437a00"></i><span class="ln" style="left:16.1px;">PutItem</span><span class="lv">13.071</span></div>
<div class="lg" style="top:106px;left:524.2px;width:112.4px"><i style="background:#1f3800"></i><span class="ln" style="left:16.1px;">Query</span><span class="lv">27.684</span></div>
<div class="lg" style="top:132px;left:524.2px;width:112.4px"><i style="background:#000000"></i><span class="ln" style="left:16.1px;">Scan</span><span class="lv"></span></div>
</section>
<section class="panel" style="left:668px;top:541px;width:616px;height:300px"><h2 style="letter-spacing:0.121px">Write Throttle Events</h2>
<svg class="cv" width="614" height="298" viewBox="669 542 614 298" font-family='"Liberation Sans", sans-serif'>
<path d="M720 763.7H1118.42M720 742.04H1118.42M720 720.38H1118.42M720 698.72H1118.42M720 677.06H1118.42M720 655.4H1118.42M720 633.74H1118.42M720 612.08H1118.42M730.2 596.92V773.7M785.66 596.92V773.7M841.12 596.92V773.7M896.58 596.92V773.7M952.04 596.92V773.7M1007.5 596.92V773.7M1062.96 596.92V773.7M1118.42 596.92V773.7" stroke="rgba(0,0,0,0.075)" stroke-width="1" fill="none"/>
<path d="M730.2 763.7L730.2 596.92L757.93 679.23L785.66 679.23L813.39 750.7L841.12 750.7L868.85 672.73L896.58 672.73L924.31 627.24L952.04 627.24L979.77 596.92L1007.5 596.92L1035.23 679.23L1062.96 679.23L1090.69 750.7L1118.42 750.7L1118.42 763.7Z" fill="#55733f" fill-opacity="0.1"/>
<path d="M730.2 763.7L730.2 598.43L757.93 681.39L785.66 681.39L813.39 737.71L841.12 737.71L868.85 683.56L896.58 683.56L924.31 631.57L952.04 631.57L979.77 603.42L1007.5 603.42L1035.23 672.73L1062.96 672.73L1090.69 737.71L1118.42 737.71L1118.42 763.7Z" fill="#415537" fill-opacity="0.1"/>
<path d="M757.93 763.7L757.93 709.55L785.66 709.55L813.39 709.55L841.12 709.55L868.85 705.22L896.58 705.22L924.31 698.72L952.04 698.72L979.77 698.72L1007.5 698.72L1035.23 664.06L1062.96 664.06L1090.69 696.55L1118.42 696.55L1118.42 763.7Z" fill="#000000" fill-opacity="0.09"/>
<path d="M730.2 596.92L757.93 679.23L785.66 679.23L813.39 750.7L841.12 750.7L868.85 672.73L896.58 672.73L924.31 627.24L952.04 627.24L979.77 596.92L1007.5 596.92L1035.23 679.23L1062.96 679.23L1090.69 750.7L1118.42 750.7" stroke="#437a00" stroke-width="1" fill="none" stroke-linejoin="round"/>
<g fill="#fff" fill-opacity="0.35" stroke="#437a00" stroke-width="1"><circle cx="730.2" cy="596.92" r="1.25"/><circle cx="757.93" cy="679.23" r="1.25"/><circle cx="785.66" cy="679.23" r="1.25"/><circle cx="813.39" cy="750.7" r="1.25"/><circle cx="841.12" cy="750.7" r="1.25"/><circle cx="868.85" cy="672.73" r="1.25"/><circle cx="896.58" cy="672.73" r="1.25"/><circle cx="924.31" cy="627.24" r="1.25"/><circle cx="952.04" cy="627.24" r="1.25"/><circle cx="979.77" cy="596.92" r="1.25"/><circle cx="1007.5" cy="596.92" r="1.25"/><circle cx="1035.23" cy="679.23" r="1.25"/><circle cx="1062.96" cy="679.23" r="1.25"/><circle cx="1090.69" cy="750.7" r="1.25"/><circle cx="1118.42" cy="750.7" r="1.25"/></g>
<path d="M730.2 598.43L757.93 681.39L785.66 681.39L813.39 737.71L841.12 737.71L868.85 683.56L896.58 683.56L924.31 631.57L952.04 631.57L979.77 603.42L1007.5 603.42L1035.23 672.73L1062.96 672.73L1090.69 737.71L1118.42 737.71" stroke="#1f3800" stroke-width="1" fill="none" stroke-linejoin="round"/>
<g fill="#fff" fill-opacity="0.35" stroke="#1f3800" stroke-width="1"><circle cx="730.2" cy="598.43" r="1.25"/><circle cx="757.93" cy="681.39" r="1.25"/><circle cx="785.66" cy="681.39" r="1.25"/><circle cx="813.39" cy="737.71" r="1.25"/><circle cx="841.12" cy="737.71" r="1.25"/><circle cx="868.85" cy="683.56" r="1.25"/><circle cx="896.58" cy="683.56" r="1.25"/><circle cx="924.31" cy="631.57" r="1.25"/><circle cx="952.04" cy="631.57" r="1.25"/><circle cx="979.77" cy="603.42" r="1.25"/><circle cx="1007.5" cy="603.42" r="1.25"/><circle cx="1035.23" cy="672.73" r="1.25"/><circle cx="1062.96" cy="672.73" r="1.25"/><circle cx="1090.69" cy="737.71" r="1.25"/><circle cx="1118.42" cy="737.71" r="1.25"/></g>
<path d="M757.93 709.55L785.66 709.55L813.39 709.55L841.12 709.55L868.85 705.22L896.58 705.22L924.31 698.72L952.04 698.72L979.77 698.72L1007.5 698.72L1035.23 664.06L1062.96 664.06L1090.69 696.55L1118.42 696.55" stroke="#000000" stroke-width="1" fill="none" stroke-linejoin="round"/>
<g fill="#fff" fill-opacity="0.35" stroke="#000000" stroke-width="1"><circle cx="757.93" cy="709.55" r="1.25"/><circle cx="785.66" cy="709.55" r="1.25"/><circle cx="813.39" cy="709.55" r="1.25"/><circle cx="841.12" cy="709.55" r="1.25"/><circle cx="868.85" cy="705.22" r="1.25"/><circle cx="896.58" cy="705.22" r="1.25"/><circle cx="924.31" cy="698.72" r="1.25"/><circle cx="952.04" cy="698.72" r="1.25"/><circle cx="979.77" cy="698.72" r="1.25"/><circle cx="1007.5" cy="698.72" r="1.25"/><circle cx="1035.23" cy="664.06" r="1.25"/><circle cx="1062.96" cy="664.06" r="1.25"/><circle cx="1090.69" cy="696.55" r="1.25"/><circle cx="1118.42" cy="696.55" r="1.25"/></g>
<g font-size="10" fill="#6e6e6e" text-anchor="end"><text x="710.4" y="767.3">0</text><text x="710.4" y="745.64">10</text><text x="710.4" y="723.98">20</text><text x="710.4" y="702.32">30</text><text x="710.4" y="680.66">40</text><text x="710.4" y="659">50</text><text x="710.4" y="637.34">60</text><text x="710.4" y="615.68">70</text></g>
<g font-size="10" fill="#6e6e6e" text-anchor="middle" letter-spacing="-0.2"><text x="730.2" y="792.3">13:18</text><text x="785.66" y="792.3">13:20</text><text x="841.12" y="792.3">13:22</text><text x="896.58" y="792.3">13:24</text><text x="952.04" y="792.3">13:26</text><text x="1007.5" y="792.3">13:28</text><text x="1062.96" y="792.3">13:30</text><text x="1118.42" y="792.3">13:32</text></g>
<text x="923.6" y="811.7" font-size="12" font-weight="bold" fill="#333" text-anchor="middle" letter-spacing="-0.1">per 60 seconds</text>
</svg>
<div class="lg" style="top:54px;left:477.8px;width:120.6px"><i style="background:#68bc00"></i><span class="ln" style="left:16.9px;letter-spacing:0.201px;">TryDaxTable2</span><span class="lv"></span></div>
<div class="lg" style="top:80px;left:477.8px;width:120.6px"><i style="background:#437a00"></i><span class="ln" style="left:16.9px;letter-spacing:0.201px;">TryDaxTable3</span><span class="lv">6</span></div>
<div class="lg" style="top:106px;left:477.8px;width:120.6px"><i style="background:#1f3800"></i><span class="ln" style="left:16.9px;letter-spacing:0.226px;">TryDaxTable4</span><span class="lv">12</span></div>
<div class="lg" style="top:132px;left:477.8px;width:120.6px"><i style="background:#000000"></i><span class="ln" style="left:16.9px;letter-spacing:0.153px;">TryDaxTable</span><span class="lv">31</span></div>
</section>
<section class="panel" style="left:1292px;top:541px;width:577px;height:300px"><h2 style="letter-spacing:0.084px">Account Provisioned Write Capacity Utilization</h2>
<svg class="cv" width="575" height="298" viewBox="1293 542 575 298" font-family='"Liberation Sans", sans-serif'>
<path d="M1361.4 584.2V781.9H1708.5M1355.4 781.9h6M1355.4 742.36h6M1355.4 702.82h6M1355.4 663.28h6M1355.4 623.74h6M1355.4 584.2h6M1361.4 781.9v5.5M1708.5 781.9v5.5M1407.4 781.9v4M1523.2 781.9v4M1639 781.9v4" stroke="#d5d5d5" stroke-width="1" fill="none"/>
<g font-size="11" fill="#69707d" text-anchor="end" letter-spacing="0.2"><text x="1352" y="785">0</text><text x="1352" y="745.46">0.002</text><text x="1352" y="705.92">0.004</text><text x="1352" y="666.38">0.006</text><text x="1352" y="626.84">0.008</text><text x="1352" y="587.3">0.01</text></g>
<g font-size="11" fill="#69707d" text-anchor="middle" letter-spacing="0.2"><text x="1407.4" y="798.8">13:20:00</text><text x="1523.2" y="798.8">13:25:00</text><text x="1639" y="798.8">13:30:00</text></g>
<text transform="translate(1311.3 682.5) rotate(-90)" font-size="12" font-weight="bold" fill="#535966" text-anchor="middle" letter-spacing="0.2">Write Utilization</text>
<text x="1535" y="815.5" font-size="12" font-weight="bold" fill="#535966" text-anchor="middle" letter-spacing="0.31">@timestamp per 30 seconds</text>
<path d="M1372.2 584.6H1696.44" stroke="#3cb878" stroke-width="1.3" fill="none"/>
<g fill="#3cb878"><circle cx="1372.2" cy="585" r="1.3"/><circle cx="1395.36" cy="585" r="1.3"/><circle cx="1418.52" cy="585" r="1.3"/><circle cx="1441.68" cy="585" r="1.3"/><circle cx="1464.84" cy="585" r="1.3"/><circle cx="1488" cy="585" r="1.3"/><circle cx="1511.16" cy="585" r="1.3"/><circle cx="1534.32" cy="585" r="1.3"/><circle cx="1557.48" cy="585" r="1.3"/><circle cx="1580.64" cy="585" r="1.3"/><circle cx="1603.8" cy="585" r="1.3"/><circle cx="1626.96" cy="585" r="1.3"/><circle cx="1650.12" cy="585" r="1.3"/><circle cx="1673.28" cy="585" r="1.3"/><circle cx="1696.44" cy="585" r="1.3"/></g>
</svg>
<div class="vl" style="top:34.5px;left:424px"><i style="background:#b9b83c"></i><span style="left:18.4px;letter-spacing:0.315px">Write Utilization</span></div>
<div class="vl" style="top:58.6px;left:424px"><i style="background:#3cb878"></i><span style="left:18.4px;letter-spacing:0.216px">Read Utilization</span></div>
</section>
</main>
<div class="btm"></div>
<div class="badge"><svg width="22" height="28" viewBox="0 0 22 28"><path d="M0 0H20.5L0 23.5Z" fill="#fff"/><path d="M11.8 13.9C15.8 16.4 18.6 20.6 19.2 25.7H1.2Z" fill="#fff"/></svg><span>kibana</span><b><svg width="6" height="10" viewBox="0 0 6 10"><path d="M5 0.7L1 5L5 9.3" stroke="#fff" stroke-width="1" fill="none"/></svg></b></div>
</body></html>
